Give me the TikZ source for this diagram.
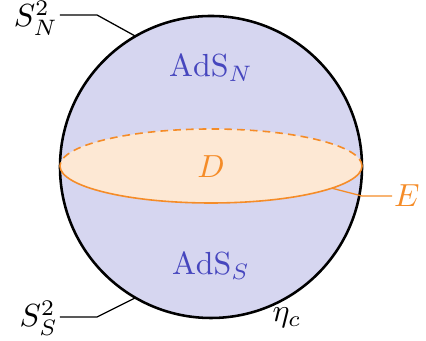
\documentclass[tikz,border=0pt]{standalone}
\usepackage{amsmath}
\usepackage{amssymb}
\usepackage{tikz}
\usetikzlibrary{calc}
\definecolor{bulkfill}{RGB}{214,214,240}
\definecolor{diskfill}{RGB}{253,232,212}
\definecolor{diskline}{RGB}{245,140,40}
\definecolor{adstext}{RGB}{70,70,190}

\begin{document}
\begin{tikzpicture}[
        scale=0.011,
        sphere/.style={draw=black, fill=bulkfill, line width=0.8pt},
        disk/.style={fill=diskfill},
        rim/.style={draw=diskline, line width=0.5pt},
        leader/.style={line width=0.4pt},
        adslbl/.style={text=adstext},
        tag/.style={inner sep=0.5pt}
    ]
        \useasboundingbox (-211,-174) rectangle (215,167);
        % -- bulk ball --
        \draw[sphere] (0,0) circle[radius=151];
        % -- disk D at the equator --
        \fill[disk] (0,1) ellipse[x radius=151, y radius=37];
        \draw[rim, dash pattern=on 2.4pt off 1.6pt] (151,1) arc[start angle=0, end angle=180, x radius=151, y radius=37];
        \draw[rim] (151,1) arc[start angle=0, end angle=-180, x radius=151, y radius=37];

        % -- labels inside --
        \node[adslbl] (adsN) at (0,99)  {$\mathrm{AdS}_N$};
        \node[adslbl] (adsS) at (0,-99) {$\mathrm{AdS}_S$};
        \node[text=diskline] (D) at (0,0) {$D$};

        % -- boundary hemispheres --
        \node[tag, anchor=east] (SN) at (-151,149)  {$S^2_N$};
        \node[tag, anchor=east] (SS) at (-151,-151) {$S^2_S$};
        \coordinate (kN) at (-114,152);
        \coordinate (kS) at (-114,-150);
        \coordinate (pN) at (120:151);
        \coordinate (pS) at (240:151);
        \draw[leader] (SN.east |- kN) -- (kN) -- (pN);
        \draw[leader] (SS.east |- kS) -- (kS) -- (pS);

        % -- edge E of the disk --
        \coordinate (pE) at ($(0,1)+(-36.87:151 and 37)$);
        \coordinate (kE) at (151,-29);
        \node[tag, anchor=west, text=diskline] (E) at (181,-29) {$E$};
        \draw[leader, draw=diskline] (pE) -- (kE) -- (E.west);

        % -- eta_c --
        \node (eta) at (76,-151) {$\eta_c$};
    \end{tikzpicture}
\end{document}
